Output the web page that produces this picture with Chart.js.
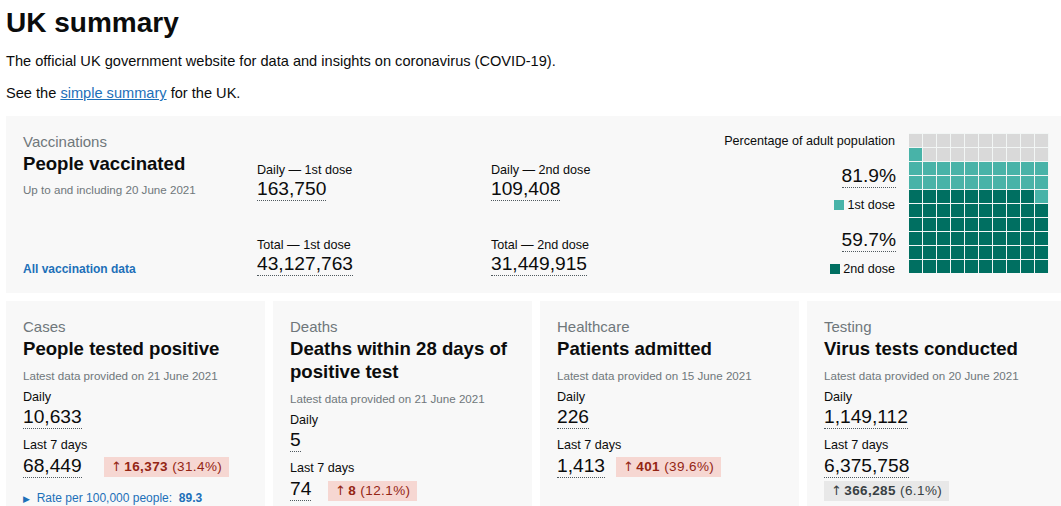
<!DOCTYPE html>
<html>
<head>
<meta charset="utf-8">
<script src="https://cdn.jsdelivr.net/npm/chart.js@4"></script>
<style>
  body { margin: 0; width: 1061px; height: 506px; overflow: hidden; background: #fff;
         font-family: "Liberation Sans", Arial, sans-serif; color: #0b0c0c; position: relative; }
  .abs { position: absolute; white-space: nowrap; }
  h1 { position: absolute; left: 6px; top: 3px; margin: 0; font-size: 28px; line-height: 40px; font-weight: 700; }
  .para { font-size: 14.6px; line-height: 20px; }
  .para a { color: #1d70b8; }
  .box { position: absolute; background: #f8f8f8; }
  .caption { font-size: 15px; line-height: 20px; color: #6f777b; }
  .title { font-size: 18.6px; line-height: 24px; font-weight: 700; }
  .date { font-size: 11.6px; line-height: 20px; color: #6f777b; }
  .label { font-size: 12.6px; line-height: 20px; }
  .num { font-size: 19.2px; line-height: 23px; border-bottom: 1px dotted #505a5f; }
  .blue { color: #1d70b8; font-weight: 700; font-size: 12px; line-height: 20px; }
  .badge { font-size: 13.5px; line-height: 20px; height: 20px; padding: 0 7px; background: #f6d7d2; color: #942514; letter-spacing: 0.4px; }
  .badge b { font-weight: 700; }
  .badge .arr { font-family: "DejaVu Sans", sans-serif; font-size: 13px; margin-right: 2px; }
  .badge.grey { background: #e8e8e8; color: #383f43; }
  .key { display: inline-block; width: 10px; height: 10px; margin-right: 3px; vertical-align: -1px; }
</style>
</head>
<body>
<h1>UK summary</h1>
<div class="abs para" style="left:6px; top:51px;">The official UK government website for data and insights on coronavirus (COVID-19).</div>
<div class="abs para" style="left:6px; top:83px;">See the <a href="#">simple summary</a> for the UK.</div>

<div class="box" style="left:6px; top:116px; width:1055px; height:177px;">
  <div class="abs caption" style="left:17px; top:16px;">Vaccinations</div>
  <div class="abs title" style="left:17px; top:36px;">People vaccinated</div>
  <div class="abs date" style="left:17px; top:64px;">Up to and including 20 June 2021</div>
  <div class="abs blue" style="left:17px; top:143px;">All vaccination data</div>

  <div class="abs label" style="left:251px; top:44px;">Daily — 1st dose</div>
  <div class="abs num" style="left:251px; top:61px;" id="daily1"></div>
  <div class="abs label" style="left:251px; top:119px;">Total — 1st dose</div>
  <div class="abs num" style="left:251px; top:136px;" id="total1"></div>

  <div class="abs label" style="left:485px; top:44px;">Daily — 2nd dose</div>
  <div class="abs num" style="left:485px; top:61px;" id="daily2"></div>
  <div class="abs label" style="left:485px; top:119px;">Total — 2nd dose</div>
  <div class="abs num" style="left:485px; top:136px;" id="total2"></div>

  <div class="abs label" style="right:166px; top:15px;">Percentage of adult population</div>
  <div class="abs num" style="right:165px; top:48px;" id="pct1"></div>
  <div class="abs label" style="right:166px; top:79px;"><span class="key" id="key1"></span>1st dose</div>
  <div class="abs num" style="right:165px; top:112px;" id="pct2"></div>
  <div class="abs label" style="right:166px; top:143px;"><span class="key" id="key2"></span>2nd dose</div>

  <canvas id="waffle" width="140" height="140" style="position:absolute; left:903px; top:17px;"></canvas>
</div>

<div id="cards"></div>

<script>
// vaccination figures
const vaccDaily = [163750, 109408];
const vaccTotal = [43127763, 31449915];
const doseLabels = ["1st dose", "2nd dose"];
const dosePercent = [81.9, 59.7];
const doseColors = ["#48b3a8", "#006f61"];
const emptyColor = "#d9d9d9";
const gridColumns = ["1", "2", "3", "4", "5", "6", "7", "8", "9", "10"];

// headline cards
const cardCaptions = ["Cases", "Deaths", "Healthcare", "Testing"];
const cardTitles = ["People tested positive", "Deaths within 28 days of<br>positive test", "Patients admitted", "Virus tests conducted"];
const cardDates = ["21 June 2021", "21 June 2021", "15 June 2021", "20 June 2021"];
const cardDaily = [10633, 5, 226, 1149112];
const cardWeek = [68449, 74, 1413, 6375758];
const cardChange = [16373, 8, 401, 366285];
const cardChangePct = [31.4, 12.1, 39.6, 6.1];

const fmt = n => n.toLocaleString("en-GB");

document.getElementById("daily1").textContent = fmt(vaccDaily[0]);
document.getElementById("daily2").textContent = fmt(vaccDaily[1]);
document.getElementById("total1").textContent = fmt(vaccTotal[0]);
document.getElementById("total2").textContent = fmt(vaccTotal[1]);
document.getElementById("pct1").textContent = dosePercent[0] + "%";
document.getElementById("pct2").textContent = dosePercent[1] + "%";
document.getElementById("key1").style.background = doseColors[0];
document.getElementById("key2").style.background = doseColors[1];

// cards
const cardLeft = [6, 273, 540, 807];
const badgeSpot = ["left:98px; top:156px;", "left:55px; top:180px;", "left:76px; top:156px;", "left:17px; top:180px;"];
let html = "";
cardCaptions.forEach((cap, i) => {
    const shift = i === 1 ? 23 : 0; // two line title pushes things down
    const badge = `<span class="arr">&#8593;</span><b>${fmt(cardChange[i])}</b> (${cardChangePct[i]}%)`;
    html += `<div class="box" style="left:${cardLeft[i]}px; top:301px; width:259px; height:220px;">
      <div class="abs caption" style="left:17px; top:16px;">${cap}</div>
      <div class="abs title" style="left:17px; top:36px; line-height:23px;">${cardTitles[i]}</div>
      <div class="abs date" style="left:17px; top:${65 + shift}px;">Latest data provided on ${cardDates[i]}</div>
      <div class="abs label" style="left:17px; top:${86 + shift}px;">Daily</div>
      <div class="abs num" style="left:17px; top:${104 + shift}px;">${fmt(cardDaily[i])}</div>
      <div class="abs label" style="left:17px; top:${134 + shift}px;">Last 7 days</div>
      <div class="abs num" style="left:17px; top:${153 + shift}px;">${fmt(cardWeek[i])}</div>
      <div class="abs badge${i === 3 ? " grey" : ""}" style="${badgeSpot[i]}">${badge}</div>
      ${i === 0 ? '<div class="abs blue" style="left:17px; top:187px; font-weight:400;"><span style="font-size:9px;">&#9654;</span>&nbsp; Rate per 100,000 people: &nbsp;<b>89.3</b></div>' : ""}
    </div>`;
});
document.getElementById("cards").innerHTML = html;

// waffle: 10 x 10 cells filled left to right, bottom row first
const filled = dosePercent.map(p => Math.floor(p));
const rows = gridColumns.map((_, r) => ({
    data: gridColumns.map(() => 1),
    backgroundColor: gridColumns.map((_, c) => {
        const idx = r * 10 + c;
        if (idx < filled[1]) return doseColors[1];
        if (idx < filled[0]) return doseColors[0];
        return emptyColor;
    }),
    borderColor: "#f2f6f5",
    borderWidth: { top: 1, right: 1, bottom: 0, left: 0 },
    borderSkipped: false,
    inflateAmount: 0,
    barPercentage: 1,
    categoryPercentage: 1,
}));

new Chart(document.getElementById("waffle"), {
    type: "bar",
    data: { labels: gridColumns, datasets: rows },
    options: {
        responsive: false,
        animation: false,
        events: [],
        layout: { padding: 0 },
        plugins: { legend: { display: false }, tooltip: { enabled: false } },
        scales: {
            x: { stacked: true, display: false },
            y: { stacked: true, display: false, min: 0, max: 10 },
        },
    },
});
</script>
</body>
</html>
